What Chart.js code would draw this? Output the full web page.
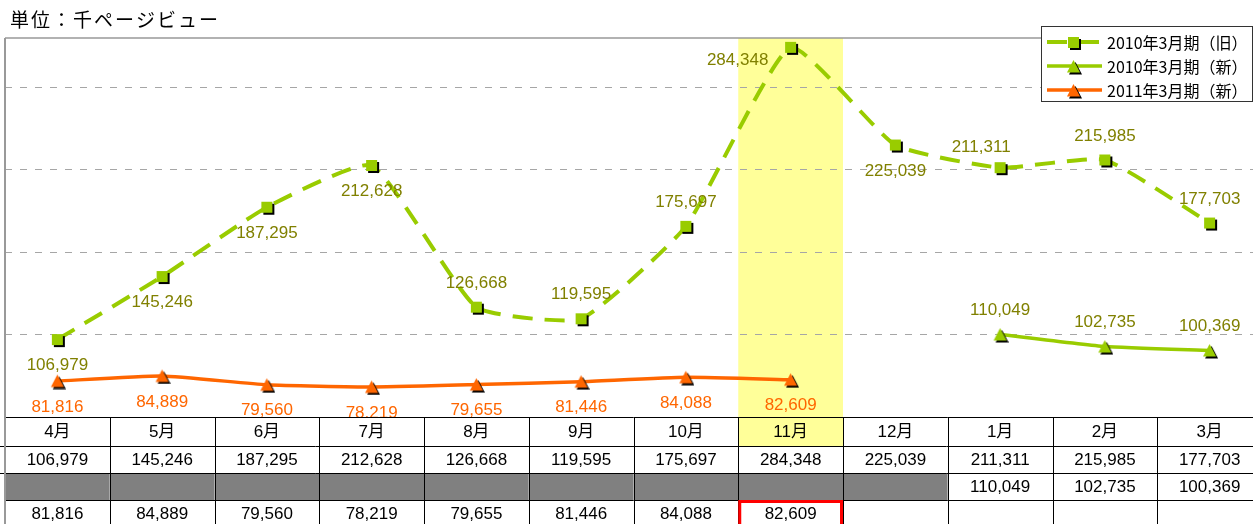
<!DOCTYPE html>
<html>
<head>
<meta charset="utf-8">
<script src="https://cdn.jsdelivr.net/npm/chart.js@4.4.1/dist/chart.umd.min.js"></script>
<style>
  html, body { margin: 0; padding: 0; background: #fff; overflow: hidden; }
  #wrap { position: absolute; left: 0; top: 0; width: 1253px; height: 524px; overflow: hidden; }
</style>
</head>
<body>
<div id="wrap"><canvas id="myChart" width="1262" height="530"></canvas></div>
<script>
const months = ['4月', '5月', '6月', '7月', '8月', '9月', '10月', '11月', '12月', '1月', '2月', '3月'];
const old2010 = [106979, 145246, 187295, 212628, 126668, 119595, 175697, 284348, 225039, 211311, 215985, 177703];
const new2010 = [null, null, null, null, null, null, null, null, null, 110049, 102735, 100369];
const fy2011 = [81816, 84889, 79560, 78219, 79655, 81446, 84088, 82609, null, null, null, null];
const seriesNames = ['2010年3月期（旧）', '2010年3月期（新）', '2011年3月期（新）'];
const yTicks = [60000, 110000, 160000, 210000, 260000, 290000];
const unitLabel = '単位：千ページビュー';
const highlightMonth = 7;

// where each value label sits relative to its point
const labelPlace = [
  ['below', 'below', 'below', 'below', 'above', 'above', 'above', 'left', 'below', 'aboveLeft', 'above', 'above'],
  ['above', 'above', 'above', 'above', 'above', 'above', 'above', 'above', 'above', 'above', 'above', 'above'],
  ['below', 'below', 'below', 'below', 'below', 'below', 'below', 'below', 'below', 'below', 'below', 'below']
];
const placeOffset = { above: [0, -24], below: [0, 26], left: [-53, 13], aboveLeft: [-19, -20] };

const FONT = '"Liberation Sans", "Noto Sans CJK JP", sans-serif';
const GREEN = '#99cc00';
const ORANGE = '#ff6600';
const OLIVE = '#808000';
const fmt = v => v.toLocaleString('en-US');

function markerIcon(shape, color) {
  const c = document.createElement('canvas');
  c.width = 17; c.height = 17;
  const g = c.getContext('2d');
  const paint = (d, fill) => {
    g.fillStyle = fill;
    g.beginPath();
    if (shape === 'square') {
      g.rect(3 + d, 3 + d, 11, 11);
    } else {
      g.moveTo(8.5 + d, 2 + d);
      g.lineTo(15 + d, 14.5 + d);
      g.lineTo(2 + d, 14.5 + d);
      g.closePath();
    }
    g.fill();
  };
  paint(2, '#000');
  paint(0, color);
  return c;
}

const tablePlugin = {
  id: 'pageTable',
  beforeDraw(chart) {
    const { ctx, chartArea: a } = chart;
    const w = a.width / months.length;
    ctx.save();
    ctx.fillStyle = '#fff';
    ctx.fillRect(0, 0, chart.width, chart.height);
    ctx.fillStyle = '#ffff99';
    ctx.fillRect(a.left + highlightMonth * w, a.top, w, a.bottom - a.top);
    ctx.restore();
  },
  afterDatasetsDraw(chart) {
    const { ctx } = chart;
    ctx.save();
    ctx.font = '17px ' + FONT;
    ctx.textAlign = 'center';
    ctx.textBaseline = 'middle';
    chart.data.datasets.forEach((ds, di) => {
      const meta = chart.getDatasetMeta(di);
      meta.data.forEach((pt, i) => {
        if (ds.data[i] == null) return;
        const off = placeOffset[labelPlace[di][i]];
        ctx.fillStyle = di === 2 ? ORANGE : OLIVE;
        ctx.fillText(fmt(ds.data[i]), pt.x + off[0], pt.y + off[1]);
      });
    });
    ctx.restore();
  },
  afterDraw(chart) {
    const { ctx, chartArea: a } = chart;
    const w = a.width / months.length;
    const rowH = [29, 27, 27, 27];
    const tops = [a.bottom];
    rowH.forEach(h => tops.push(tops[tops.length - 1] + h));
    const rows = [months, old2010, new2010, fy2011];

    ctx.save();
    // title
    ctx.fillStyle = '#000';
    ctx.font = '19px "Noto Sans CJK JP", sans-serif';
    ctx.letterSpacing = '2px';
    ctx.textBaseline = 'middle';
    ctx.textAlign = 'left';
    ctx.fillText(unitLabel, 10, 20);
    ctx.letterSpacing = '0px';

    // plot frame
    ctx.strokeStyle = '#999';
    ctx.lineWidth = 1.5;
    ctx.beginPath();
    ctx.moveTo(a.left, a.top);
    ctx.lineTo(a.right, a.top);
    ctx.stroke();

    // table cells
    for (let i = 0; i < months.length; i++) {
      const x0 = a.left + i * w;
      ctx.fillStyle = '#fff';
      ctx.fillRect(x0, tops[0], w, tops[4] - tops[0]);
      if (i === highlightMonth) {
        ctx.fillStyle = '#ffff99';
        ctx.fillRect(x0, tops[0], w, rowH[0]);
      }
      if (new2010[i] == null) {
        ctx.fillStyle = '#808080';
        ctx.fillRect(x0, tops[2], w, rowH[2]);
      }
    }
    ctx.strokeStyle = '#000';
    ctx.lineWidth = 1;
    ctx.beginPath();
    tops.forEach((y, r) => {
      const yy = Math.round(y) + 0.5;
      ctx.moveTo(r === 1 || r === 2 ? 0 : a.left, yy);
      ctx.lineTo(a.right, yy);
    });
    for (let i = 1; i <= months.length; i++) {
      const xx = Math.round(a.left + i * w) + 0.5;
      ctx.moveTo(xx, tops[0]);
      ctx.lineTo(xx, tops[4]);
    }
    ctx.stroke();

    ctx.font = '17px ' + FONT;
    ctx.textAlign = 'center';
    ctx.fillStyle = '#000';
    rows.forEach((row, r) => {
      row.forEach((v, i) => {
        if (v == null) return;
        const cx = a.left + (i + 0.5) * w;
        const cy = (tops[r] + tops[r + 1]) / 2 + 1;
        ctx.fillText(typeof v === 'number' ? fmt(v) : v, cx, cy);
      });
    });

    // red box on the latest month
    ctx.strokeStyle = '#ff0000';
    ctx.lineWidth = 3;
    ctx.strokeRect(a.left + highlightMonth * w + 1.5, tops[3] + 1.5, w - 3, rowH[3]);

    // left frame line
    ctx.strokeStyle = '#999';
    ctx.lineWidth = 2;
    ctx.beginPath();
    ctx.moveTo(a.left, a.top);
    ctx.lineTo(a.left, chart.height);
    ctx.stroke();

    // legend
    const lx = 1041, ly = 26, lw = 211, lh = 75;
    ctx.fillStyle = '#fff';
    ctx.fillRect(lx, ly, lw, lh);
    ctx.strokeStyle = '#333';
    ctx.lineWidth = 1;
    ctx.strokeRect(lx + 0.5, ly + 0.5, lw, lh);
    ctx.font = '16px "Noto Sans CJK JP", sans-serif';
    ctx.textAlign = 'left';
    chart.data.datasets.forEach((ds, di) => {
      const y = ly + 16 + di * 24;
      ctx.strokeStyle = ds.borderColor;
      ctx.lineWidth = ds.borderWidth;
      ctx.setLineDash(ds.borderDash || []);
      ctx.beginPath();
      ctx.moveTo(lx + 6, y);
      ctx.lineTo(lx + 61, y);
      ctx.stroke();
      ctx.setLineDash([]);
      const icon = ds.pointStyle;
      ctx.drawImage(icon, Math.round(lx + 32 - icon.width / 2), Math.round(y - icon.height / 2));
      ctx.fillStyle = '#000';
      ctx.fillText(ds.label, lx + 66, y + 1);
    });
    ctx.restore();
  }
};

document.addEventListener('DOMContentLoaded', function() {
  const ctx = document.getElementById('myChart');
  Chart.defaults.font.family = FONT;

  new Chart(ctx, {
    type: 'line',
    data: {
      labels: months,
      datasets: [{
        label: seriesNames[0],
        data: old2010,
        borderColor: GREEN,
        borderWidth: 4,
        borderDash: [20, 12],
        pointStyle: markerIcon('square', GREEN),
        pointRadius: 7,
        tension: 0.15
      },
      {
        label: seriesNames[1],
        data: new2010,
        borderColor: GREEN,
        borderWidth: 3.5,
        pointStyle: markerIcon('triangle', GREEN),
        pointRadius: 7,
        tension: 0.15
      },
      {
        label: seriesNames[2],
        data: fy2011,
        borderColor: ORANGE,
        borderWidth: 3.5,
        pointStyle: markerIcon('triangle', ORANGE),
        pointRadius: 7,
        tension: 0.15
      }]
    },
    options: {
      responsive: false,
      animation: false,
      layout: { autoPadding: false, padding: { left: 5, top: 38, right: 0, bottom: 113 } },
      plugins: { legend: { display: false }, tooltip: { enabled: false } },
      scales: {
        x: { display: false, offset: true },
        y: {
          min: yTicks[0],
          max: yTicks[yTicks.length - 1],
          afterBuildTicks: scale => { scale.ticks = yTicks.map(v => ({ value: v })); },
          afterFit: scale => { scale.width = 0; },
          ticks: { display: false, padding: 0 },
          border: { display: false, dash: [7, 8] },
          grid: {
            drawTicks: false,
            lineWidth: 1,
            color: c => (c.tick && (c.tick.value === yTicks[0] || c.tick.value === yTicks[yTicks.length - 1])) ? 'rgba(0,0,0,0)' : '#a6a6a6'
          }
        }
      }
    },
    plugins: [tablePlugin]
  });
});
</script>
</body>
</html>
